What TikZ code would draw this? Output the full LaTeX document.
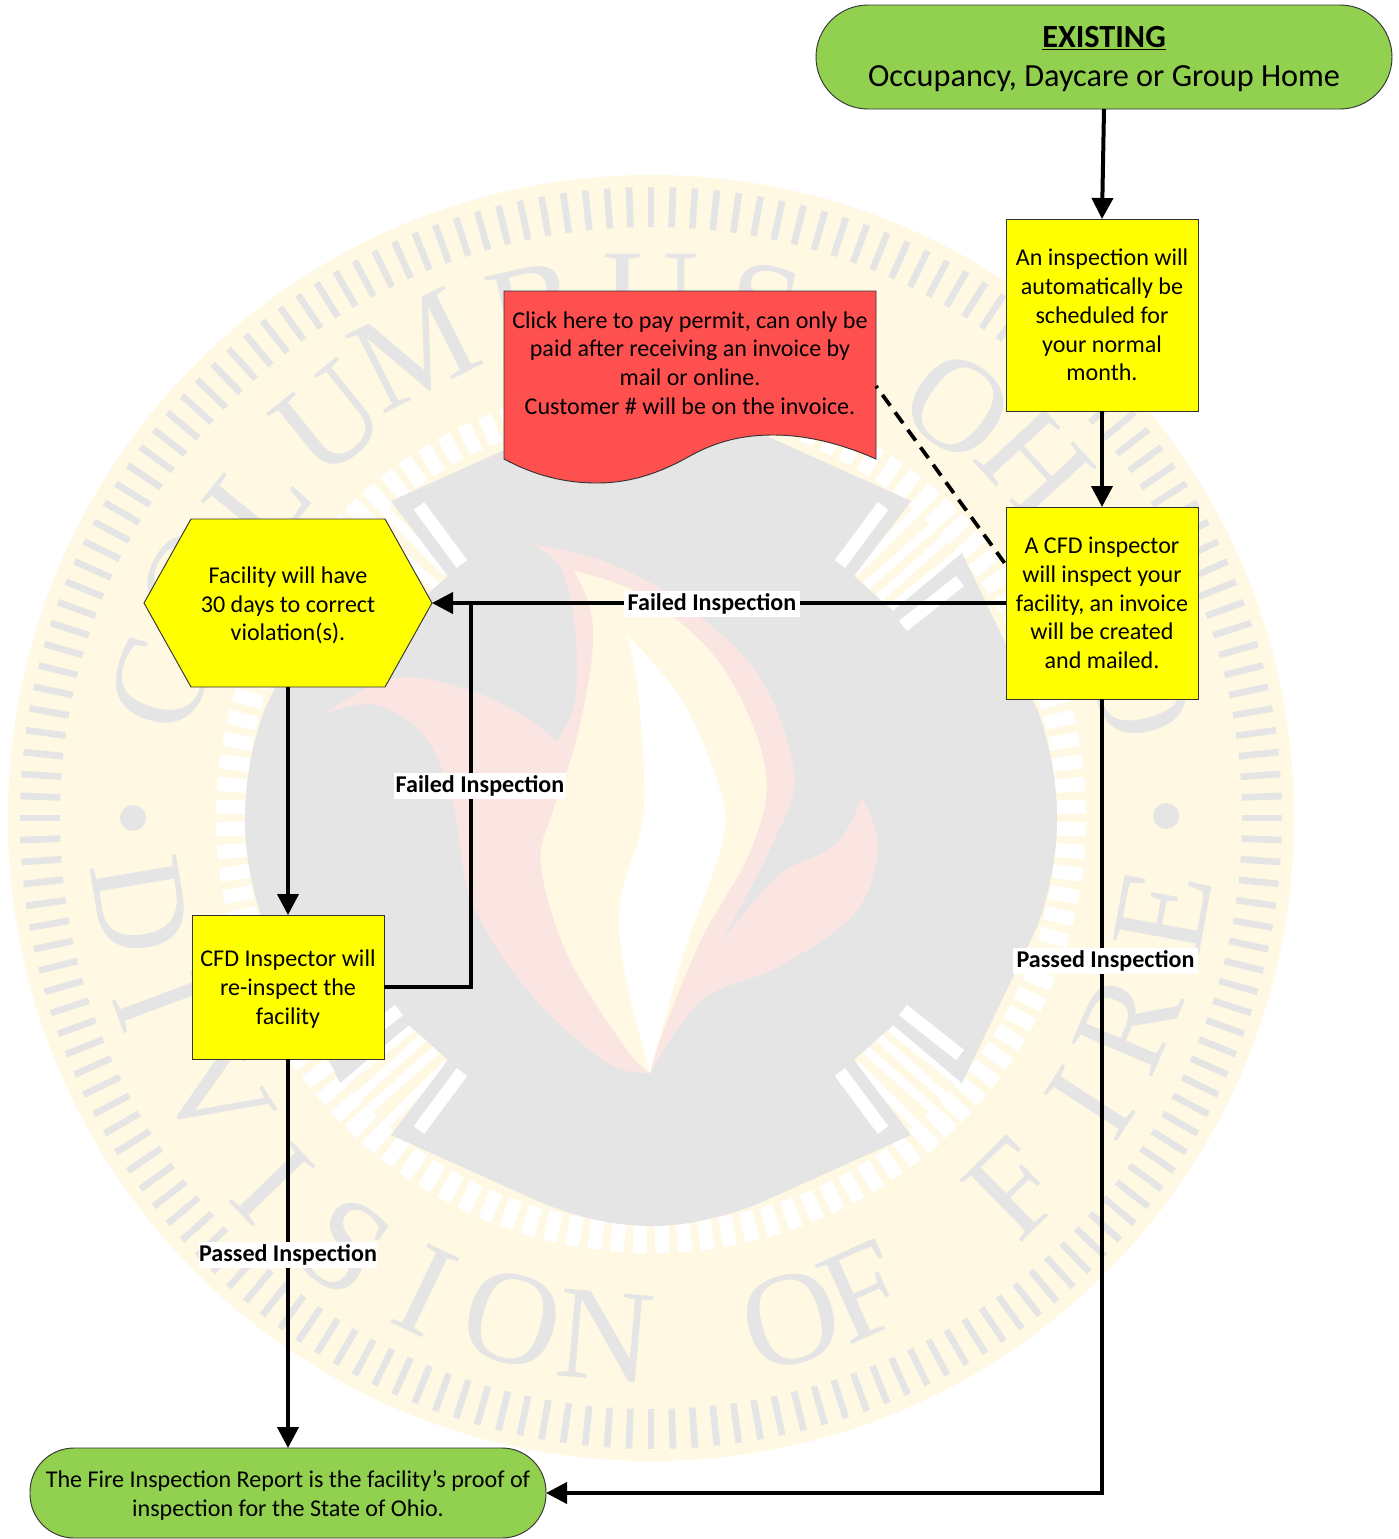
\documentclass[tikz,border=0pt]{standalone}
\usepackage{fontspec}
\setmainfont{Carlito}
\newfontfamily\sealfont{Liberation Serif}
\usetikzlibrary{arrows.meta}
\definecolor{sealcream}{HTML}{FFF8E2}
\definecolor{sealgray}{HTML}{E5E5E5}
\definecolor{sealpink}{HTML}{FBE5E3}
\definecolor{termgreen}{HTML}{92D050}
\definecolor{docred}{HTML}{FF5050}
\definecolor{boxyellow}{HTML}{FFFF00}
\newcommand\pushdown[1]{\rule{0pt}{#1}}
\tikzset{
  body/.style={font=\fontsize{18.05}{21.6}\selectfont,align=center,inner sep=0pt,outer sep=0pt,text=black},
  procbox/.style={body,draw=black!80,line width=.7pt,fill=boxyellow},
  term/.style={body,draw=black!80,line width=.7pt,fill=termgreen},
  shapeline/.style={draw=black!80,line width=.7pt},
  conn/.style={draw=black,line width=3pt},
  arrowconn/.style={conn,-{Triangle[length=15.75pt,width=15.75pt]}},
  lbl/.style={font=\fontsize{18.05}{21.6}\selectfont\bfseries,fill=white,inner xsep=3pt,inner ysep=2.2pt,outer sep=0pt,text=black},
  sealtxt/.style={font=\sealfont\fontsize{100}{100}\selectfont,text=sealgray,inner sep=0pt},
  tick/.style={draw=sealgray,line width=5pt},
  wtick/.style={draw=white,line width=10.5pt},
}
\begin{document}
\begin{tikzpicture}[x=.75pt,y=-.75pt]
\useasboundingbox (0,0) rectangle (1399,1539);
\fill[white] (0,0) rectangle (1399,1539);
% ---- watermark seal
\fill[sealcream] (651,818) circle [radius=643];
\foreach \a in {0,2,...,358}
  \draw[tick] ({651+591*cos(\a)},{818-591*sin(\a)}) -- ({651+631*cos(\a)},{818-631*sin(\a)});
\foreach \a in {1.5,4.5,...,360}
  \draw[wtick] ({651+405*cos(\a)},{818-405*sin(\a)}) -- ({651+435*cos(\a)},{818-435*sin(\a)});
\foreach \sx/\sy in {1/1,-1/1,1/-1,-1/-1}{
  \begin{scope}[shift={(651,818)},xscale=\sx,yscale=\sy]
    \foreach \ax/\ay/\bx/\by in {240/210/329/281,227/219/316/299,215/232/303/310,204/246/285/326}
      \draw[draw=white,line width=6.75pt] (\ax,\ay) -- (\bx,\by);
    \fill[sealgray] (-1,-1) -- (406,-1) -- (406,0) .. controls (406,40) and (398,75) .. (387,107)
      -- (311,265) -- (242,207) -- (203,242) -- (260,317) -- (111,384)
      .. controls (72,400) and (35,408) .. (0,408) -- (-1,408) -- cycle;
    \draw[draw=white,line width=9.75pt] (252,192) -- (309,237);
    \draw[draw=white,line width=9.75pt] (189,254) -- (232,312);
  \end{scope}
}
% flames
\fill[sealpink] plot[smooth,tension=.6] coordinates {(530,544) (606,562) (683,604) (759,676) (794,775) (771,847) (721,942)}
  -- plot[smooth,tension=.6] coordinates {(721,942) (778,876) (836,844) (862,798)}
  -- plot[smooth,tension=.6] coordinates {(862,798) (878,847) (855,913) (778,967) (702,1000) (650,1073)}
  -- plot[smooth,tension=.6] coordinates {(650,1073) (606,1062) (530,993) (472,902) (453,804) (426,738) (376,705) (325,713)}
  -- plot[smooth,tension=.6] coordinates {(325,713) (396,678) (472,691) (530,720) (556,742)}
  -- plot[smooth,tension=.6] coordinates {(556,742) (575,702) (575,629) (560,567) (530,544)} -- cycle;
\fill[sealcream] plot[smooth,tension=.6] coordinates {(574,571) (644,596) (721,665) (765,767) (752,847) (702,938) (664,1029) (650,1073)}
  -- plot[smooth,tension=.6] coordinates {(650,1073) (625,1047) (568,956) (541,865) (553,811) (575,745) (591,665) (591,611) (574,571)} -- cycle;
\fill[white] plot[smooth,tension=.6] coordinates {(627,635) (683,702) (721,793) (721,847) (683,956) (650,1073)}
  -- plot[smooth,tension=.6] coordinates {(650,1073) (625,975) (620,902) (641,829) (644,775) (637,684) (627,635)} -- cycle;
% seal lettering
\foreach \l/\t/\r [count=\i] in {C/164.6/509,O/152.5/515,L/141/505,U/128.9/512,M/116.8/524,B/103/520,U/90/520,S/77.5/520,O/53.3/514,H/42.6/522,I/28/520,O/14.7/506}
  \node[sealtxt,rotate=\t-90] (top\i) at ({651+\r*cos(\t)},{818-\r*sin(\t)}) {\l};
\foreach \l/\t/\r [count=\i] in {D/189.7/518,I/200.5/525,V/212.4/516,I/224/527,S/234.5/527,I/244.5/524,O/254.6/520,N/265/520,O/285.6/521,F/294.2/519,F/314.4/519,I/327/524,R/336.7/519,E/349.6/520}
  \node[sealtxt,rotate=\t+90] (bot\i) at ({651+\r*cos(\t)},{818-\r*sin(\t)}) {\l};
\fill[sealgray] (133,818) circle [radius=13];
\fill[sealgray] (1166,816) circle [radius=13];
% ---- diagram shapes
\node[term,font=\fontsize{24.2}{29.25}\selectfont,minimum width=432pt,minimum height=78pt,rounded corners=39pt] (start) at (1104,57)
  {\pushdown{19pt}\underline{\textbf{EXISTING}}\\Occupancy, Daycare or Group Home};
\node[procbox,minimum width=144pt,minimum height=144pt] (sched) at (1102,315)
  {An inspection will\\automatically be\\scheduled for\\your normal\\month.};
\node[procbox,minimum width=144pt,minimum height=144pt] (insp) at (1102,603)
  {A CFD inspector\\will inspect your\\facility, an invoice\\will be created\\and mailed.};
\draw[shapeline,fill=docred] (504,291) -- (876,291) -- (876,459)
  .. controls (840,443) and (805,435) .. (773,435)
  .. controls (735,435) and (710,445) .. (690,456)
  .. controls (665,470) and (635,483) .. (597,483)
  .. controls (560,483) and (530,473) .. (504,459) -- cycle;
\node[body] (pay) at (690,363)
  {Click here to pay permit, can only be\\paid after receiving an invoice by\\mail or online.\\Customer \# will be on the invoice.};
\draw[shapeline,fill=boxyellow] (144,603) -- (191,519) -- (385,519) -- (432,603) -- (385,687) -- (191,687) -- cycle;
\node[body,minimum width=216pt,minimum height=126pt] (fix) at (288,603)
  {\pushdown{16pt}Facility will have\\30 days to correct\\violation(s).};
\node[procbox,minimum width=144pt,minimum height=108pt] (reinsp) at (288,987)
  {\pushdown{16pt}CFD Inspector will\\re-inspect the\\facility};
\node[term,minimum width=387pt,minimum height=67.5pt,rounded corners=33pt] (proof) at (288,1493)
  {\pushdown{16pt}The Fire Inspection Report is the facility’s proof of\\inspection for the State of Ohio.};
% ---- connectors
\coordinate (docedge) at (876,386);
\coordinate (inspdash) at (1006,565);
\coordinate (join) at (471,603);
\coordinate (corner) at (1102,1493);
\draw[arrowconn] (start.south) -- (sched.north);
\draw[arrowconn] (sched.south) -- (insp.north);
\draw[arrowconn] (insp.west) -- (fix.east);
\draw[conn] (reinsp.east) -| (join);
\draw[arrowconn] (fix.south) -- (reinsp.north);
\draw[arrowconn] (reinsp.south) -- (proof.north);
\draw[arrowconn] (insp.south) -- (corner) -- (proof.east);
\draw[draw=black,line width=2.8pt,dash pattern=on 10pt off 6.2pt,dash phase=8pt] (docedge) -- (inspdash);
% ---- connector labels
\node[lbl] (f1) at (712,604) {Failed Inspection};
\node[lbl,inner xsep=1pt] (f2) at (480,786) {Failed Inspection};
\node[lbl,inner xsep=2.5pt] (p1) at (1105.5,961) {Passed Inspection};
\node[lbl,inner xsep=0pt] (p2) at (288,1255) {Passed Inspection};
\end{tikzpicture}
\end{document}
